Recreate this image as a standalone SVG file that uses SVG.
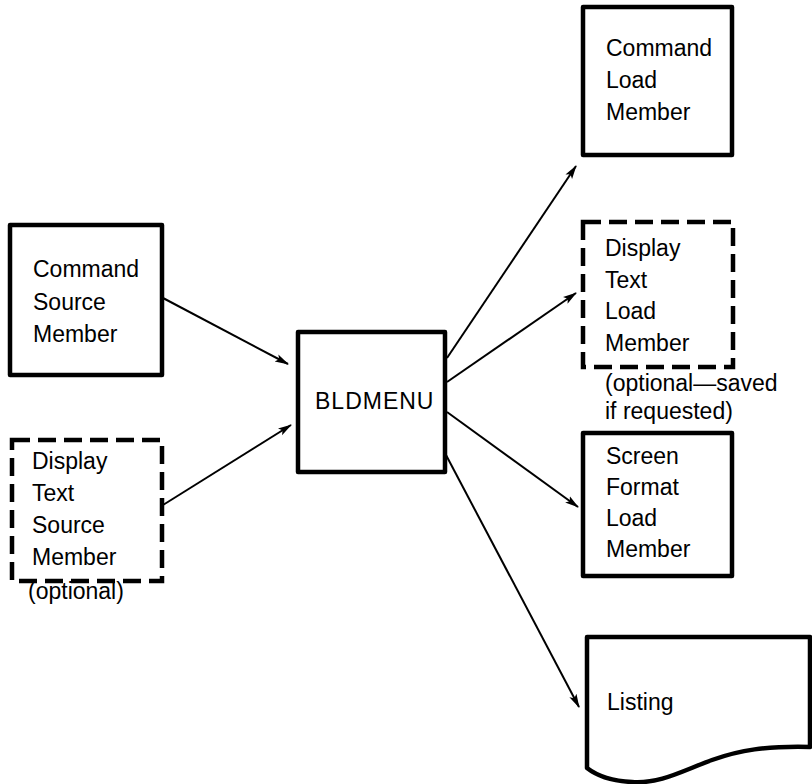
<svg xmlns="http://www.w3.org/2000/svg" width="812" height="784" viewBox="0 0 812 784">
<defs>
<style>
.box{fill:#fff;stroke:#000;stroke-width:4.5;stroke-linejoin:round}
.dash{fill:#fff;stroke:#000;stroke-width:4.5;stroke-dasharray:18 8}
.t{font-family:"Liberation Sans",Arial,sans-serif;font-size:23px;fill:#000}
.c{stroke:#000;stroke-width:2;fill:none;marker-end:url(#ah)}
</style>
<marker id="ah" markerWidth="14" markerHeight="10" refX="13" refY="5" orient="auto" markerUnits="userSpaceOnUse">
<path d="M0,1 L14,5 L0,9 L3,5 Z" fill="#000"/>
</marker>
</defs>
<rect width="812" height="784" fill="#fff"/>
<g id="connectors">
<line class="c" x1="163" y1="298" x2="288" y2="364"/>
<line class="c" x1="163" y1="505" x2="291" y2="425"/>
<line class="c" x1="447" y1="358" x2="576" y2="166"/>
<line class="c" x1="447" y1="382" x2="576" y2="293"/>
<line class="c" x1="447" y1="412" x2="578" y2="507"/>
<line class="c" x1="446" y1="455" x2="579" y2="707"/>
</g>
<g id="cmd-source">
<rect class="box" x="10" y="225" width="152" height="150"/>
<text class="t" x="33" y="277">Command</text>
<text class="t" x="33" y="310">Source</text>
<text class="t" x="33" y="342">Member</text>
</g>
<g id="disp-source">
<rect class="dash" x="12" y="440" width="150" height="141"/>
<text class="t" x="32" y="469">Display</text>
<text class="t" x="32" y="501">Text</text>
<text class="t" x="32" y="533">Source</text>
<text class="t" x="32" y="565">Member</text>
<text class="t" x="28" y="599">(optional)</text>
</g>
<g id="bldmenu">
<rect class="box" x="298" y="332" width="147" height="140"/>
<text class="t" x="315" y="409" style="letter-spacing:1px">BLDMENU</text>
</g>
<g id="cmd-load">
<rect class="box" x="583" y="7" width="149" height="148"/>
<text class="t" x="606" y="56">Command</text>
<text class="t" x="606" y="88">Load</text>
<text class="t" x="606" y="120">Member</text>
</g>
<g id="disp-load">
<rect class="dash" x="583" y="222" width="150" height="145"/>
<text class="t" x="605" y="256">Display</text>
<text class="t" x="605" y="288">Text</text>
<text class="t" x="605" y="319">Load</text>
<text class="t" x="605" y="351">Member</text>
<text class="t" x="605" y="391">(optional—saved</text>
<text class="t" x="605" y="419">if requested)</text>
</g>
<g id="screen-load">
<rect class="box" x="583" y="433" width="149" height="143"/>
<text class="t" x="606" y="464">Screen</text>
<text class="t" x="606" y="495">Format</text>
<text class="t" x="606" y="526">Load</text>
<text class="t" x="606" y="557">Member</text>
</g>
<g id="listing">
<path class="box" d="M587,637 H810 V747 C765,746 740,750 712,760 C682,771 660,784 632,782 C612,781 596,775 587,768 Z"/>
<text class="t" x="607" y="710">Listing</text>
</g>
</svg>
